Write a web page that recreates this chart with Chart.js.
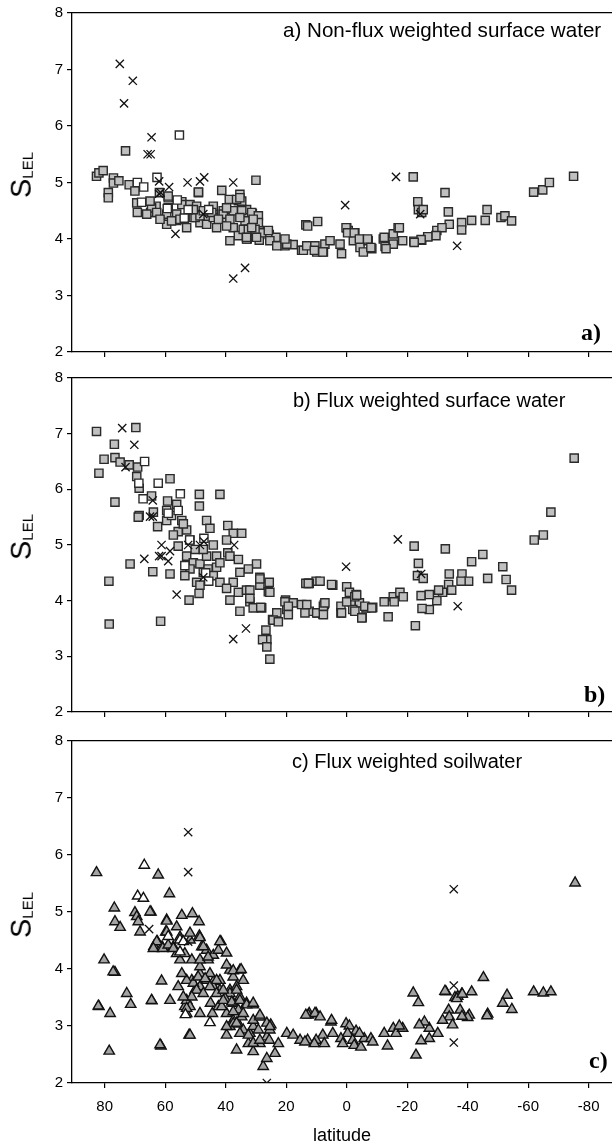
<!DOCTYPE html>
<html>
<head>
<meta charset="utf-8">
<script src="https://cdn.jsdelivr.net/npm/chart.js@4.4.1/dist/chart.umd.min.js"></script>
<style>
  body { margin: 0; background: #fff; width: 612px; height: 1147px; position: relative; overflow: hidden;
         font-family: "Liberation Sans", Arial, sans-serif; color: #000; }
  canvas { position: absolute; left: 0; }
  .title { position: absolute; font-size: 20px; line-height: 20px; white-space: nowrap; }
  .tag { position: absolute; font-family: "Liberation Serif", "Times New Roman", serif; font-weight: bold;
         font-size: 24px; line-height: 24px; }
  .ylab { position: absolute; white-space: nowrap; font-size: 29px; line-height: 29px;
          transform: translate(-50%, -50%) rotate(-90deg); }
  .ylab sub { font-size: 15px; vertical-align: -0.1em; }
</style>
</head>
<body>
<canvas id="pa" width="612" height="365" style="top:0"></canvas>
<canvas id="pb" width="612" height="360" style="top:365px"></canvas>
<canvas id="pc" width="612" height="422" style="top:725px"></canvas>

<div class="title" style="left:283px;top:20px;font-size:20.6px">a) Non-flux weighted surface water</div>
<div class="title" style="left:293px;top:390px">b) Flux weighted surface water</div>
<div class="title" style="left:292px;top:751px">c) Flux weighted soilwater</div>
<div class="tag" style="left:581px;top:320px">a)</div>
<div class="tag" style="left:584px;top:682px">b)</div>
<div class="tag" style="left:589px;top:1048px">c)</div>
<div class="ylab" style="left:24px;top:175px">S<sub>LEL</sub></div>
<div class="ylab" style="left:24px;top:537px">S<sub>LEL</sub></div>
<div class="ylab" style="left:24px;top:915px">S<sub>LEL</sub></div>

<script>
// axis setup
const xTicks = [80, 60, 40, 20, 0, -20, -40, -60, -80];
const yTicks = [2, 3, 4, 5, 6, 7, 8];
const X_LEFT = 90.8, X_RIGHT = -87.7;

// ── a) Non-flux weighted surface water  [latitude, S_LEL] ──
const aGrey = [
  [82.7,5.11],[81.9,5.17],[80.5,5.21],[78.8,4.82],[78.8,4.73],[77.1,5.08],[77.1,4.99],[75.3,5.03],[73.1,5.56],
  [71.9,4.96],[70,4.85],[69.4,4.64],[69.2,4.47],[64.8,4.47],[63,4.58],[61.5,4.35],[61.9,4.82],[59,4.73],[59,4.55],
  [56.2,4.33],[54.5,4.66],[49,4.82],[50.7,4.38],[41.3,4.86],[38.8,4.7],[35.3,4.79],[35.8,4.68],[30,5.04],[39.7,4.38],
  [33.1,4.52],[31.2,4.45],[37.5,4.2],[35.8,4.06],[32.9,4.0],[28.9,4.15],[28.9,3.98],[25.6,4.08],[23.4,4.03],[20.4,3.88],
  [17.7,3.9],[14.9,3.8],[13.5,4.25],[30.3,4.29],[44.1,4.44],[43,4.2],[46.3,4.35],[40.8,4.5],[37.5,4.5],[52.9,4.2],
  [48.5,4.29],[59.5,4.26],[64.5,4.55],[38.6,3.97],
  [34.7,4.67],[31.4,4.47],[29.2,4.41],[29.2,4.29],[34.2,4.17],[31.4,4.15],[33.1,4.0],[28.1,4.11],[25.9,4.15],[25.4,3.97],
  [23.1,3.88],[19.8,3.91],[20.4,4.0],[14.3,3.8],[13.2,3.88],[10.5,3.88],[9.9,3.77],[7.2,3.91],[7.7,3.77],[5.5,3.97],
  [2.2,3.91],[1.7,3.74],[-0.5,4.15],[0,4.2],[-2.7,4.11],[-2.2,3.97],[-4.4,3.85],[-5.5,3.77],[-7.1,3.97],[-8.3,3.83],
  [-12.1,4.0],[-12.7,3.87],[-15.4,4.09],[-15.4,3.91],[-17,4.2],[-18.5,3.97],[12.9,4.23],[9.6,4.31],[-22.2,3.96],
  [-24.8,3.98],[-26.8,4.04],[-29.8,4.15],[-23.5,4.66],[-23.7,4.52],[-24.8,4.47],
  [-22,5.1],[-32.5,4.82],[-25.3,4.52],[-33.6,4.48],[-46.4,4.52],[-51,4.38],[-52.3,4.41],[-54.5,4.32],[-41.3,4.33],
  [-45.8,4.33],[-38,4.29],[-38,4.16],[-33.9,4.26],[-31.5,4.2],[-29.5,4.06],[-26.8,4.04],[-24.6,3.99],[-22.3,3.94],
  [-61.8,4.83],[-64.8,4.87],[-67,5.0],[-75,5.11],[0.2,4.2],[-0.3,4.11],[-2.5,4.11],[-4.2,4.0],[-6.9,4.0],[-8,3.85],
  [-12.4,4.03],[-17.4,4.2],[-13,3.83],[7.9,3.77],[10.7,3.8],
  [56.2,4.44],[54.5,4.61],[51.8,4.61],[49.6,4.58],[50.1,4.38],[48.5,4.41],[46.3,4.26],[44.1,4.58],[44.1,4.38],
  [40.8,4.44],[39.7,4.55],[38.6,4.35],[36.4,4.7],[35.3,4.73],[34.7,4.5],[33.6,4.32],[32.5,4.17],[30.9,4.35],[30.3,4.17],
  [29.8,4.03],[33.1,4.03],[49,4.83],[65,4.67],[66.1,4.44],[62.8,4.47],[59.5,4.44],[57.9,4.32],[55.1,4.35],[50.7,4.52],
  [47.4,4.5],[44.6,4.47],[42.4,4.35],[39.7,4.23],[35.3,4.38],[31.4,4.2],[59,4.76],[61.7,4.35]
];
const aWhite = [
  [55.3,5.84],[62.7,5.09],[69.2,5.0],[67.1,4.92],[67.8,4.65],[59.3,4.54],[56,4.69],[52.4,4.52],[53.7,4.37],[45.6,4.52]
];
const aCross = [
  [75,7.1],[70.7,6.8],[73.6,6.4],[64.5,5.8],[65.8,5.5],[64.8,5.5],[62,5.02],[58.7,4.92],[52.6,5.0],[48.5,5.02],
  [47.1,5.09],[37.5,5.0],[62,4.8],[61.5,4.82],[56.6,4.09],[47.4,4.44],[37.5,3.3],[33.6,3.49],[-16.3,5.1],[0.5,4.6],
  [-24.3,4.44],[-36.5,3.88]
];

// ── b) Flux weighted surface water ──
const bGrey = [
  [82.7,7.04],[81.9,6.29],[80.2,6.54],[76.8,6.81],[76.6,6.57],[76.6,5.77],[74.9,6.49],[71.9,6.44],[69.7,7.11],[69.1,6.4],
  [69.4,6.23],[68.6,6.02],[68.6,5.53],[68.9,5.5],[78.6,4.35],[78.5,3.58],[71.6,4.66],[64.1,4.52],[63.9,5.59],[64.5,5.88],
  [62.5,5.33],[61.5,3.63],[58.4,6.19],[59.2,5.79],[59.5,5.44],[56.2,5.73],[54.5,5.44],[55.7,5.24],[57.3,5.18],[58.4,4.48],
  [55.7,4.98],[52.1,4.01],[48.7,5.91],[48.7,5.7],[48.8,4.13],[46.3,5.44],[45.2,5.3],[44.1,5.0],[41.9,5.91],[39.3,5.35],
  [37.5,5.21],[34.7,5.21],[39.7,5.09],[39.3,4.86],[43,4.8],[38.6,4.8],[35.8,4.74],[29.8,4.66],[32.5,4.57],[35.3,4.51],
  [37.5,4.33],[38.6,4.01],[35.8,4.15],[33.1,4.19],[32,3.98],[35.3,3.81],[28.7,4.42],[28.7,4.28],[25.6,4.33],[28.1,3.87],
  [30.9,3.87],[25.9,4.16],[26.7,3.47],[26.4,3.3],[27.8,3.3],[26.4,3.17],[25.4,2.95],[24.5,3.66],[23.1,3.78],[20.2,4.01],
  [19.8,3.84],[17.7,3.96],[14.9,3.93],[13.5,4.31],
  [52.9,5.27],[51.8,5.09],[50.1,4.92],[52.9,4.8],[50.7,4.68],[48.5,4.66],[46.3,4.8],[47.4,4.51],[45.8,4.57],[51.8,4.57],
  [53.5,4.45],[49.6,4.33],[48.5,4.28],[44.1,4.45],[41.9,4.33],[39.7,4.22],[43,4.6],[41.9,4.68],[47.4,4.92],[54,5.38],
  [57.9,5.53],[59.5,5.62],
  [-22.3,4.98],[-32.6,4.93],[-23.7,4.67],[-23.4,4.45],[-25.3,4.4],[-45,4.83],[-41.3,4.7],[-51.6,4.61],[-52.7,4.38],
  [-54.5,4.19],[-46.6,4.4],[-38.1,4.48],[-40.3,4.35],[-37.8,4.35],[-33.9,4.48],[-33.7,4.29],[-31.7,4.15],[-29.8,4.0],
  [-27.3,3.84],[-24.9,3.86],[-24.6,4.09],[-27.3,4.11],[-30.4,4.19],[-34.7,4.19],[-22.7,3.55],[-13.7,3.71],[-62,5.09],
  [-65,5.18],[-67.5,5.59],[-75.2,6.56],[4.6,4.28],[10.1,4.35],[12.4,4.31],[0,4.25],[-0.9,4.15],[-3.1,4.11],[-4.2,3.96],
  [-6.4,3.87],[-8.6,3.88],[-5.1,3.7],[-12.4,3.98],[-15.4,4.07],[-17.6,4.15],[-18.7,4.07],[-15.7,3.98],[1.9,3.9],
  [-1.4,3.98],[-2,3.84],[1.9,3.78],[7.4,3.93],[9.6,3.78],[12.4,3.81],[7.9,3.76],
  [28.7,4.39],[32,4.19],[32,4.04],[25.4,4.15],[28.4,3.88],[24.3,3.65],[22.6,3.62],[20.4,3.98],[19.3,3.9],[19.3,3.75],
  [12.7,4.31],[8.8,4.35],[5,4.29],[13.8,3.78],[13.2,3.93],[9.9,3.78],[7.7,3.9],[7.7,3.75],[7.2,3.96],[1.7,3.78],
  [0,3.98],[-2.7,4.07],[-2.7,3.81],[-5,3.69],[-6,3.9],[-8.3,3.87],[-3.3,4.1]
];
const bWhite = [
  [66.8,6.5],[68.7,6.11],[62.3,6.11],[67.3,5.83],[59,5.57],[55.7,5.62],[55,5.92],[51.9,5.09],[53.5,4.63],[46.6,4.5],
  [45.6,4.35],[47.2,5.12]
];
const bCross = [
  [74.2,7.1],[70.2,6.8],[73.1,6.4],[64.1,5.8],[65,5.51],[64.1,5.51],[66.9,4.75],[61.2,5.0],[62,4.8],[61.2,4.8],
  [59,4.71],[58.4,4.89],[56.2,4.11],[52.4,5.0],[48.5,5.0],[47.2,5.06],[37.2,5.0],[47.4,4.42],[37.5,3.31],[33.3,3.5],
  [-16.9,5.1],[0.2,4.61],[-24.6,4.48],[-36.7,3.9]
];

// ── c) Flux weighted soilwater ──
const cGrey = [
  [82.7,5.69],[81.9,3.34],[80.2,4.16],[78.2,3.22],[78.5,2.56],[76.8,5.07],[76.6,3.94],[76.6,4.83],[74.9,4.73],[72.7,3.57],
  [71.4,3.38],[70,4.99],[69.4,4.92],[68.9,4.83],[68.3,4.65],[64.7,5.0],[64.4,3.44],[63.7,4.4],[62.6,4.48],[62.3,5.65],
  [61,4.39],[61.2,3.79],[61.4,2.65],[58.6,5.32],[59.5,4.86],[59.8,4.65],[58.4,3.45],[56.2,4.74],[54.5,4.94],[57.3,4.39],
  [55.7,3.69],[51.8,4.51],[51,4.97],[48.8,4.83],[48.7,4.58],[52.1,2.84],
  [47.9,4.39],[46.3,4.33],[45.8,4.16],[44.1,4.24],[42.4,4.33],[41.6,4.48],[39.7,4.28],[38.6,3.98],[35.3,3.98],[34.2,3.8],
  [44.1,3.78],[41.9,3.63],[38.6,3.63],[36.4,3.69],[35.3,3.51],[33.1,3.4],[30.9,3.37],[39.7,3.22],[37.5,3.1],[35.8,3.04],
  [34.2,2.93],[32,2.87],[32.5,2.69],[30.9,2.55],[28.7,2.69],[26.4,2.81],[25.4,2.93],[27.6,2.29],[26.4,2.43],[23.7,2.52],
  [22.6,2.69],[28.7,3.16],[36.4,2.58],[48.5,3.22],[52.9,3.22],[53.5,3.34],[52.9,3.45],[50.1,3.63],[48.5,3.69],[46.3,3.8],
  [45.2,3.92],[48.5,3.92],[51.2,3.8],[48.5,4.04],[52.9,3.8],[54.5,3.92],[55.1,4.16],[56.2,4.27],[53.5,4.27],[51.2,4.16],
  [48.5,4.16],[45,3.4],[44.4,3.22],[42.4,3.34],[41.3,3.34],[38.6,3.57],[37.5,3.4],[35.8,3.28],[34.7,3.16],[30.9,2.99],
  [29.2,2.93],[25.1,3.02],[25.6,2.75],[39.7,2.84],[38.6,2.99],[37.5,3.04],[44.1,3.69],[43,3.57],[40.2,3.48],[41.9,3.8],
  [37.5,3.86],
  [65,5.0],[59.5,4.84],[51.8,4.63],[59.5,4.65],[62.8,4.48],[63.9,4.36],[60.8,4.36],[59,4.42],[57.3,4.36],[55.1,4.56],
  [48.5,4.55],[47.4,4.39],[41.9,4.48],[39.7,4.07],[37.5,3.97],[34.9,3.99],[45.8,4.21],[77.2,3.95],[82.1,3.35],[64.5,3.45],
  [51.8,2.84],[61.7,2.67],
  [50.7,3.75],[49.1,3.86],[46.8,3.83],[49.6,3.63],[47.4,3.57],[51.2,3.51],[54,3.51],[51.8,3.34],[52.9,3.31],[45.2,3.69],
  [43,3.8],[40.8,3.63],[36.4,3.63],[40.8,3.45],[38,3.42],[35.3,3.45],[33.1,3.37],[30.9,3.4],[37.5,3.25],[34.2,3.22],
  [30.9,3.1],[28.7,3.16],[26.4,3.05],[25.4,2.99],[39.7,2.99],[36.4,3.05],[35.3,2.87],[32.5,2.84],[30.9,2.7],[28.7,2.75],
  [-75.5,5.51],[-45.2,3.85],[-61.8,3.6],[-65,3.58],[-67.5,3.6],[-53,3.54],[-51.6,3.4],[-54.6,3.29],[-46.6,3.21],
  [-46.4,3.18],[-41.3,3.6],[-38,3.56],[-32.8,3.6],[-35.8,3.5],[-36.7,3.52],[-22,3.58],[-23.7,3.41],[-37.5,3.28],
  [-33.7,3.28],[-40.5,3.19],[-40,3.15],[-38.1,3.17],[-33.9,3.16],[-35,3.02],[-31.7,3.1],[-30.1,2.87],[-27.3,2.96],
  [-25.7,3.07],[-24,3.02],[-27.3,2.78],[-24.6,2.74],[-22.9,2.49],[-13.5,2.65],[-12.4,2.87],[-15.4,2.96],[-16.3,2.87],
  [-18.5,2.96],[-17.4,3.0],[0.2,3.04],[-0.9,3.0],[-3.1,2.91],[-0.3,2.87],[1.9,2.78],[1.3,2.69],[-2,2.75],[-2.5,2.66],
  [-4.7,2.63],[-5.8,2.78],[-8,2.78],[-8.6,2.72],[-4.2,2.87],[4.6,2.87],[5.2,3.07],[7.9,2.84],[10.1,2.75],[12.9,2.75],
  [10.1,3.22],[12.4,3.22],[7.4,2.69],[10.7,2.69],[12.7,3.19],[10.5,3.22],[8.8,3.16],[5,3.1],[28.7,3.19],[-32.5,3.61],
  [-36.4,3.48],[-38.2,3.56],[19.8,2.87],[17.7,2.84],[15.4,2.75],[13.8,2.72],[13.5,3.19]
];
const cWhite = [
  [66.9,5.82],[69.1,5.28],[67.2,5.24],[59,4.57],[55.1,4.51],[55.1,4.3],[53.3,3.2],[45.2,3.06],[54,4.48]
];
const cCross = [
  [52.4,6.4],[52.4,5.7],[65.3,4.7],[52.4,4.48],[26.4,2.0],[-35.4,5.4],[-35.4,3.71],[-35.4,2.71]
];

const FONT = '"Liberation Sans", Arial, sans-serif';
const toXY = arr => arr.map(([x, y]) => ({ x, y }));

function crossSet(pts) {
  return { data: toXY(pts), pointStyle: 'crossRot', pointRadius: 5.8, borderColor: '#111', borderWidth: 1.3,
           backgroundColor: '#111' };
}
function markSet(pts, style, fill, r, edge) {
  return { data: toXY(pts), pointStyle: style, pointRadius: r, backgroundColor: fill,
           borderColor: edge, borderWidth: 1.4 };
}

function renderPanel(canvasId, datasets, padTop, axisH, showX) {
  const ctx = document.getElementById(canvasId);
  return new Chart(ctx, {
    type: 'scatter',
    data: { datasets },
    options: {
      responsive: false, animation: false, events: [], devicePixelRatio: 1,
      layout: { autoPadding: false, padding: { top: padTop, left: 0, right: 0, bottom: 0 } },
      plugins: { legend: { display: false }, tooltip: { enabled: false } },
      scales: {
        x: {
          type: 'linear', reverse: true, min: X_RIGHT, max: X_LEFT,
          afterBuildTicks: s => { s.ticks = xTicks.map(v => ({ value: v })); },
          afterFit: s => { s.height = axisH; },
          border: { color: '#000', width: 1.3 },
          grid: { drawOnChartArea: false, drawTicks: true, tickLength: 5, color: '#000', lineWidth: 1.2 },
          ticks: { display: showX, color: '#000', font: { family: FONT, size: 15 }, padding: 10, maxRotation: 0 },
          title: { display: showX, text: 'latitude', color: '#000', font: { family: FONT, size: 18 },
                   padding: { top: 0, bottom: 0 } }
        },
        xTop: {
          type: 'linear', position: 'top', min: X_RIGHT, max: X_LEFT, reverse: true,
          afterFit: s => { s.height = 0; },
          ticks: { display: false }, grid: { display: false },
          border: { color: '#000', width: 1.3 }
        },
        y: {
          min: 2, max: 8,
          afterBuildTicks: s => { s.ticks = yTicks.map(v => ({ value: v })); },
          afterFit: s => { s.width = 72; },
          border: { color: '#000', width: 1.3 },
          grid: { drawOnChartArea: false, drawTicks: true, tickLength: 5, color: '#000', lineWidth: 1.2 },
          ticks: { color: '#000', font: { family: FONT, size: 15 }, padding: 4 }
        }
      }
    }
  });
}

renderPanel('pa', [crossSet(aCross), markSet(aWhite, 'rect', '#ffffff', 5.8, '#2a2a2a'), markSet(aGrey, 'rect', '#c0c0c0', 5.8, '#2a2a2a')], 13, 9, false);
renderPanel('pb', [crossSet(bCross), markSet(bWhite, 'rect', '#ffffff', 5.8, '#2a2a2a'), markSet(bGrey, 'rect', '#c0c0c0', 5.8, '#2a2a2a')], 12, 5, false);
renderPanel('pc', [crossSet(cCross), markSet(cWhite, 'triangle', '#ffffff', 6, '#111'), markSet(cGrey, 'triangle', '#a3a3a3', 6, '#111')], 16, 64, true);
</script>
</body>
</html>
